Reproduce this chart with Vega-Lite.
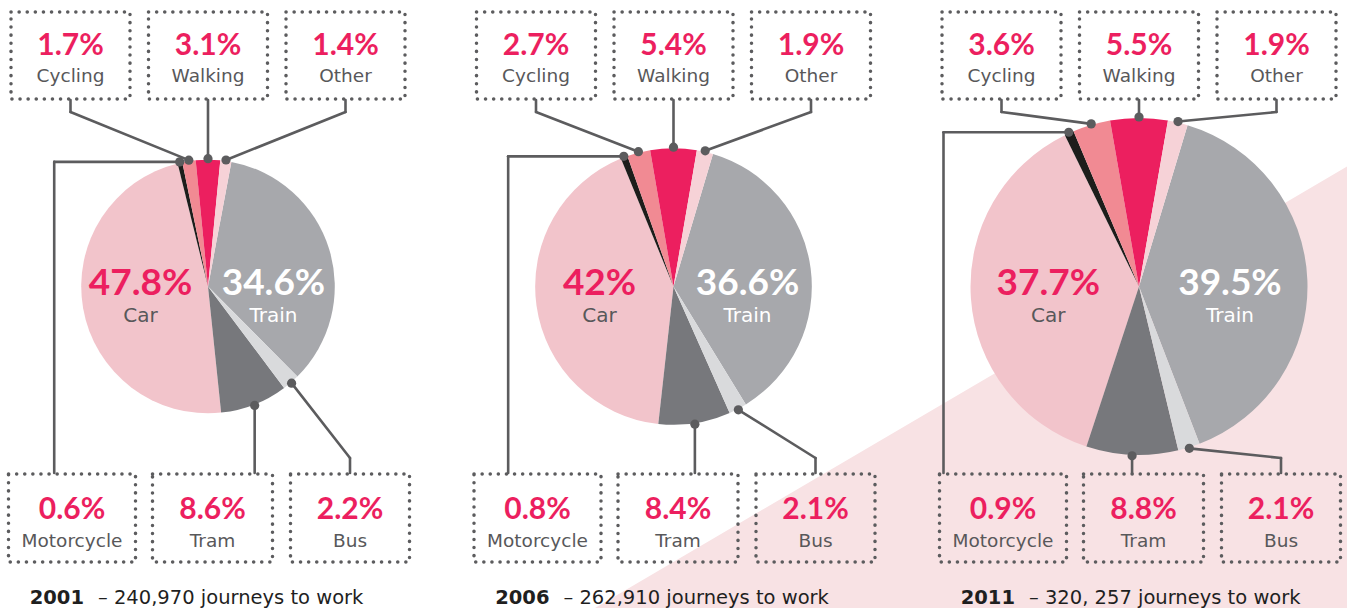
{
  "$schema": "https://vega.github.io/schema/vega-lite/v6.json",
  "width": 1347,
  "height": 608,
  "padding": 0,
  "autosize": {"type": "none"},
  "background": "#ffffff",
  "config": {"view": {"stroke": null}, "text": {"font": "Lato"}},
  "datasets": {
    "slices": [
      {"year": 2001, "mode": "Car", "share": 47.8},
      {"year": 2001, "mode": "Train", "share": 34.6},
      {"year": 2001, "mode": "Tram", "share": 8.6},
      {"year": 2001, "mode": "Bus", "share": 2.2},
      {"year": 2001, "mode": "Motorcycle", "share": 0.6},
      {"year": 2001, "mode": "Cycling", "share": 1.7},
      {"year": 2001, "mode": "Walking", "share": 3.1},
      {"year": 2001, "mode": "Other", "share": 1.4},
      {"year": 2006, "mode": "Car", "share": 42},
      {"year": 2006, "mode": "Train", "share": 36.6},
      {"year": 2006, "mode": "Tram", "share": 8.4},
      {"year": 2006, "mode": "Bus", "share": 2.1},
      {"year": 2006, "mode": "Motorcycle", "share": 0.8},
      {"year": 2006, "mode": "Cycling", "share": 2.7},
      {"year": 2006, "mode": "Walking", "share": 5.4},
      {"year": 2006, "mode": "Other", "share": 1.9},
      {"year": 2011, "mode": "Car", "share": 37.7},
      {"year": 2011, "mode": "Train", "share": 39.5},
      {"year": 2011, "mode": "Tram", "share": 8.8},
      {"year": 2011, "mode": "Bus", "share": 2.1},
      {"year": 2011, "mode": "Motorcycle", "share": 0.9},
      {"year": 2011, "mode": "Cycling", "share": 3.6},
      {"year": 2011, "mode": "Walking", "share": 5.5},
      {"year": 2011, "mode": "Other", "share": 1.9}
    ],
    "years": [
      {"year": 2001, "journeys": 240970, "journeysText": "240,970"},
      {"year": 2006, "journeys": 262910, "journeysText": "262,910"},
      {"year": 2011, "journeys": 320257, "journeysText": "320, 257"}
    ]
  },
  "layer": [
    {
      "data": {"values": [{}]},
      "mark": {"type": "arc", "color": "#f8e2e4", "theta": 1.040, "theta2": 3.1416, "radius": 1100},
      "encoding": {
        "x": {"datum": 595, "type": "quantitative", "scale": {"domain": [0, 1347], "nice": false, "zero": false}, "axis": null},
        "y": {"datum": 608, "type": "quantitative", "scale": {"domain": [0, 608], "nice": false, "zero": false, "reverse": true}, "axis": null}
      }
    },
    {
      "data": {"name": "slices"},
      "transform": [
        {"lookup": "year", "from": {"data": {"name": "years"}, "key": "year", "fields": ["journeys"]}},
        {"calculate": "indexof(['Walking','Other','Train','Bus','Tram','Car','Motorcycle','Cycling'], datum.mode)", "as": "seq"},
        {"stack": "share", "groupby": ["year"], "sort": [{"field": "seq", "order": "ascending"}], "as": ["s0", "s1"]},
        {"calculate": "datum.mode === 'Walking' ? datum.share : 0", "as": "w"},
        {"joinaggregate": [{"op": "sum", "field": "share", "as": "total"}, {"op": "sum", "field": "w", "as": "walk"}], "groupby": ["year"]},
        {"calculate": "2 * PI * (datum.s0 - datum.walk / 2) / datum.total", "as": "a0"},
        {"calculate": "2 * PI * (datum.s1 - datum.walk / 2) / datum.total", "as": "a1"},
        {"calculate": "(datum.a0 + datum.a1) / 2", "as": "am"},
        {"calculate": "datum.journeys * 168.5 / 320257", "as": "r"},
        {"calculate": "208 + (datum.year - 2001) * 93.1", "as": "cx"},
        {"calculate": "286.5", "as": "cy"},
        {"calculate": "indexof(['Cycling','Walking','Other'], datum.mode) >= 0", "as": "isTop"},
        {"calculate": "datum.isTop ? indexof(['Cycling','Walking','Other'], datum.mode) : indexof(['Motorcycle','Tram','Bus'], datum.mode)", "as": "col"},
        {"calculate": "datum.isTop ? datum.cx + (datum.col - 1) * 137.5 : datum.cx + [-136, 4.5, 142][datum.col]", "as": "bx"},
        {"calculate": "datum.isTop ? 59.5 : [63.5, 60, 59.5][datum.col]", "as": "bw"},
        {"calculate": "datum.bx - datum.bw", "as": "bx0"},
        {"calculate": "datum.bx + datum.bw", "as": "bx1"},
        {"calculate": "datum.isTop ? 12 : 474", "as": "by0"},
        {"calculate": "datum.isTop ? 99 : 562", "as": "by1"},
        {"calculate": "datum.by0 + (datum.isTop ? 43 : 45)", "as": "pctY"},
        {"calculate": "datum.by0 + (datum.isTop ? 70 : 73)", "as": "labY"},
        {"calculate": "datum.cx + (datum.r + 1) * sin(datum.am)", "as": "dotX"},
        {"calculate": "datum.cy - (datum.r + 1) * cos(datum.am)", "as": "dotY"},
        {"calculate": "datum.mode === 'Walking' || datum.mode === 'Tram' ? datum.dotX : datum.mode === 'Motorcycle' ? datum.cx - datum.r - 27 : datum.bx", "as": "ancX"},
        {"calculate": "datum.isTop ? 100 : 473", "as": "ancY"},
        {"calculate": "datum.mode === 'Walking' || datum.mode === 'Tram' || datum.mode === 'Motorcycle' ? datum.dotY : datum.isTop ? 112 : 458", "as": "elbY"},
        {"calculate": "datum.share + '%'", "as": "pctText"},
        {"calculate": "datum.cx + 0.54 * datum.r * sin(datum.am)", "as": "inX"},
        {"calculate": "datum.cy + 8", "as": "inPctY"},
        {"calculate": "datum.cy + 35", "as": "inLabY"}
      ],
      "layer": [
        {
          "transform": [{"filter": "datum.mode !== 'Car' && datum.mode !== 'Train'"}],
          "mark": {"type": "rule", "color": "#5c5c5e", "strokeWidth": 2.6, "strokeCap": "round"},
          "encoding": {
            "x": {"field": "ancX", "type": "quantitative", "scale": {"domain": [0, 1347], "nice": false, "zero": false}, "axis": null},
            "y": {"field": "ancY", "type": "quantitative", "scale": {"domain": [0, 608], "nice": false, "zero": false, "reverse": true}, "axis": null},
            "x2": {"field": "ancX"},
            "y2": {"field": "elbY"}
          }
        },
        {
          "transform": [{"filter": "datum.mode !== 'Car' && datum.mode !== 'Train'"}],
          "mark": {"type": "rule", "color": "#5c5c5e", "strokeWidth": 2.6, "strokeCap": "round"},
          "encoding": {
            "x": {"field": "ancX", "type": "quantitative", "scale": {"domain": [0, 1347], "nice": false, "zero": false}, "axis": null},
            "y": {"field": "elbY", "type": "quantitative", "scale": {"domain": [0, 608], "nice": false, "zero": false, "reverse": true}, "axis": null},
            "x2": {"field": "dotX"},
            "y2": {"field": "dotY"}
          }
        },
        {
          "mark": {"type": "arc"},
          "encoding": {
            "x": {"field": "cx", "type": "quantitative", "scale": {"domain": [0, 1347], "nice": false, "zero": false}, "axis": null},
            "y": {"field": "cy", "type": "quantitative", "scale": {"domain": [0, 608], "nice": false, "zero": false, "reverse": true}, "axis": null},
            "theta": {"field": "a0", "type": "quantitative", "scale": null, "stack": null},
            "theta2": {"field": "a1"},
            "radius": {"field": "journeys", "type": "quantitative", "scale": {"type": "linear", "domain": [0, 320257], "range": [0, 168.5], "zero": true}},
            "color": {
              "field": "mode", "type": "nominal", "legend": null,
              "scale": {
                "domain": ["Walking", "Other", "Train", "Bus", "Tram", "Car", "Motorcycle", "Cycling"],
                "range": ["#ec1f5f", "#f6d2d7", "#a7a8ac", "#d9dadc", "#77787c", "#f2c4cb", "#1d1d1b", "#f18a93"]
              }
            }
          }
        },
        {
          "transform": [{"filter": "datum.mode !== 'Car' && datum.mode !== 'Train'"}],
          "mark": {"type": "circle", "color": "#5c5c5e", "opacity": 1, "size": 85},
          "encoding": {
            "x": {"field": "dotX", "type": "quantitative", "scale": {"domain": [0, 1347], "nice": false, "zero": false}, "axis": null},
            "y": {"field": "dotY", "type": "quantitative", "scale": {"domain": [0, 608], "nice": false, "zero": false, "reverse": true}, "axis": null}
          }
        },
        {
          "transform": [{"filter": "datum.mode !== 'Car' && datum.mode !== 'Train'"}],
          "mark": {"type": "rect", "fillOpacity": 0, "stroke": "#5c5c5e", "strokeWidth": 3.5, "strokeDash": [0.1, 8], "strokeCap": "round"},
          "encoding": {
            "x": {"field": "bx0", "type": "quantitative", "scale": {"domain": [0, 1347], "nice": false, "zero": false}, "axis": null},
            "x2": {"field": "bx1"},
            "y": {"field": "by0", "type": "quantitative", "scale": {"domain": [0, 608], "nice": false, "zero": false, "reverse": true}, "axis": null},
            "y2": {"field": "by1"}
          }
        },
        {
          "transform": [{"filter": "datum.mode !== 'Car' && datum.mode !== 'Train'"}],
          "mark": {"type": "text", "font": "Lato", "fontWeight": "bold", "fontSize": 30, "align": "center", "baseline": "alphabetic", "color": "#ec1f5f"},
          "encoding": {
            "x": {"field": "bx", "type": "quantitative", "scale": {"domain": [0, 1347], "nice": false, "zero": false}, "axis": null},
            "y": {"field": "pctY", "type": "quantitative", "scale": {"domain": [0, 608], "nice": false, "zero": false, "reverse": true}, "axis": null},
            "text": {"field": "pctText", "type": "nominal"}
          }
        },
        {
          "transform": [{"filter": "datum.mode !== 'Car' && datum.mode !== 'Train'"}],
          "mark": {"type": "text", "font": "DejaVu Sans", "fontSize": 18.5, "align": "center", "baseline": "alphabetic", "color": "#58585a"},
          "encoding": {
            "x": {"field": "bx", "type": "quantitative", "scale": {"domain": [0, 1347], "nice": false, "zero": false}, "axis": null},
            "y": {"field": "labY", "type": "quantitative", "scale": {"domain": [0, 608], "nice": false, "zero": false, "reverse": true}, "axis": null},
            "text": {"field": "mode", "type": "nominal"}
          }
        },
        {
          "transform": [{"filter": "datum.mode === 'Car' || datum.mode === 'Train'"}],
          "mark": {"type": "text", "font": "Lato", "fontWeight": "bold", "fontSize": 37, "align": "center", "baseline": "alphabetic"},
          "encoding": {
            "x": {"field": "inX", "type": "quantitative", "scale": {"domain": [0, 1347], "nice": false, "zero": false}, "axis": null},
            "y": {"field": "inPctY", "type": "quantitative", "scale": {"domain": [0, 608], "nice": false, "zero": false, "reverse": true}, "axis": null},
            "text": {"field": "pctText", "type": "nominal"},
            "color": {"condition": {"test": "datum.mode === 'Train'", "value": "#ffffff"}, "value": "#ec1f5f"}
          }
        },
        {
          "transform": [{"filter": "datum.mode === 'Car' || datum.mode === 'Train'"}],
          "mark": {"type": "text", "font": "DejaVu Sans", "fontSize": 20, "align": "center", "baseline": "alphabetic"},
          "encoding": {
            "x": {"field": "inX", "type": "quantitative", "scale": {"domain": [0, 1347], "nice": false, "zero": false}, "axis": null},
            "y": {"field": "inLabY", "type": "quantitative", "scale": {"domain": [0, 608], "nice": false, "zero": false, "reverse": true}, "axis": null},
            "text": {"field": "mode", "type": "nominal"},
            "color": {"condition": {"test": "datum.mode === 'Train'", "value": "#ffffff"}, "value": "#58585a"}
          }
        }
      ]
    },
    {
      "data": {"name": "years"},
      "transform": [
        {"calculate": "208 + (datum.year - 2001) * 93.1", "as": "cx"},
        {"calculate": "datum.cx - 124", "as": "yearX"},
        {"calculate": "datum.cx - 110", "as": "restX"},
        {"calculate": "604", "as": "capY"},
        {"calculate": "'– ' + datum.journeysText + ' journeys to work'", "as": "restText"}
      ],
      "layer": [
        {
          "mark": {"type": "text", "font": "DejaVu Sans", "fontWeight": "bold", "fontSize": 19.5, "align": "right", "baseline": "alphabetic", "color": "#1f1f1f"},
          "encoding": {
            "x": {"field": "yearX", "type": "quantitative", "scale": {"domain": [0, 1347], "nice": false, "zero": false}, "axis": null},
            "y": {"field": "capY", "type": "quantitative", "scale": {"domain": [0, 608], "nice": false, "zero": false, "reverse": true}, "axis": null},
            "text": {"field": "year", "type": "nominal"}
          }
        },
        {
          "mark": {"type": "text", "font": "DejaVu Sans", "fontSize": 19.5, "align": "left", "baseline": "alphabetic", "color": "#1f1f1f"},
          "encoding": {
            "x": {"field": "restX", "type": "quantitative", "scale": {"domain": [0, 1347], "nice": false, "zero": false}, "axis": null},
            "y": {"field": "capY", "type": "quantitative", "scale": {"domain": [0, 608], "nice": false, "zero": false, "reverse": true}, "axis": null},
            "text": {"field": "restText", "type": "nominal"}
          }
        }
      ]
    }
  ]
}
